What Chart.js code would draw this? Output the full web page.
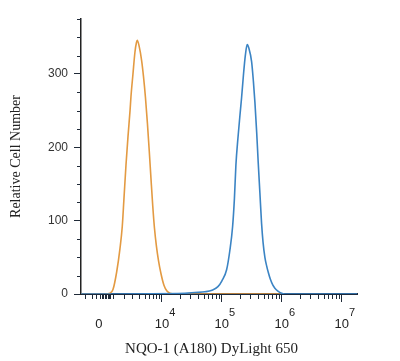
<!DOCTYPE html>
<html>
<head>
<meta charset="utf-8">
<script src="https://cdn.jsdelivr.net/npm/chart.js@4.4.1/dist/chart.umd.min.js"></script>
<style>
  html, body { margin: 0; padding: 0; background: #ffffff; }
  #wrap { width: 400px; height: 361px; }
</style>
</head>
<body>
<div id="wrap"><canvas id="c" width="400" height="361"></canvas></div>
<script>
// ---- data (fluorescence intensity vs. relative cell count) ----
const isotypeX = [-1340, 417, 781, 1011, 1315, 1608, 1827, 1998, 2213, 2441, 2685, 2801, 3065, 3347, 3571, 3696, 4001, 4446, 4787, 5194, 5632, 6055, 6479, 6960, 7444, 8053, 8711, 9606, 10797, 12132, 13630, 16530, 1000000];
const isotypeY = [0, 0, 1, 6, 30, 62, 92, 130, 176, 215, 250, 269, 300, 330, 343, 346, 338, 318, 297, 268, 232, 195, 158, 120, 90, 65, 46, 28, 12, 4, 1, 0, 0];

const nqoX = [-1340, 24300, 35700, 52400, 68580, 86340, 100670, 120540, 136840, 151770, 162630, 172230, 185960, 200860, 214320, 229670, 247980, 265750, 283700, 314660, 337100, 357030, 382600, 405220, 432500, 461670, 489000, 524140, 561660, 594770, 647190, 712350, 769160, 863040, 994970, 1128700, 18000000];
const nqoY = [0, 1, 2, 3, 5, 10, 18, 33, 60, 92, 130, 176, 212, 243, 268, 298, 326, 340, 335, 317, 290, 262, 220, 180, 138, 96, 70, 50, 38, 30, 20, 12, 8, 4, 1, 0, 0];

// axis ticks
const xTickValues = [0, 1e4, 1e5, 1e6, 1e7];
const xTickBase = ['0', '10', '10', '10', '10'];
const xTickExp = ['', '4', '5', '6', '7'];
const xMinorValues = [-1000, -500, -200, 100, 200, 300, 400, 500, 600, 700, 800,
  1000, 2000, 3000, 4000, 5000, 6000, 7000, 8000, 9000,
  2e4, 3e4, 4e4, 5e4, 6e4, 7e4, 8e4, 9e4,
  2e5, 3e5, 4e5, 5e5, 6e5, 7e5, 8e5, 9e5,
  2e6, 3e6, 4e6, 5e6, 6e6, 7e6, 8e6, 9e6];
const yTickValues = [0, 100, 200, 300];
const yMinorValues = [25, 50, 75, 125, 150, 175, 225, 250, 275, 325, 350, 375];

const X_MIN = -1340, X_MAX = 18000000, Y_MAX = 375;
const COF = 1795; // arcsinh cofactor of the biexponential-like axis

// ---- arcsinh scale ----
class AsinhScale extends Chart.LinearScale {
  _t(v) { return Math.asinh(v / COF); }
  getPixelForValue(value) {
    const a = this._t(this.min), b = this._t(this.max);
    return this.getPixelForDecimal((this._t(value) - a) / (b - a));
  }
  getValueForPixel(pixel) {
    const a = this._t(this.min), b = this._t(this.max);
    const d = this.getDecimalForPixel(pixel);
    return COF * Math.sinh(a + d * (b - a));
  }
}
AsinhScale.id = 'asinh';
AsinhScale.defaults = Chart.LinearScale.defaults;
Chart.register(AsinhScale);

const toPts = (xs, ys) => xs.map((x, i) => ({ x: x, y: ys[i] }));

const TICK_COLOR = '#1f2a38';
const SANS = '"Liberation Sans", Arial, sans-serif';
const SERIF = '"Liberation Serif", "Times New Roman", serif';

const axisDecor = {
  id: 'axisDecor',
  afterDraw(chart) {
    const ctx = chart.ctx, xs = chart.scales.x, ys = chart.scales.y;
    ctx.save();
    ctx.strokeStyle = TICK_COLOR;
    ctx.lineWidth = 1;
    // x minor ticks
    xMinorValues.forEach(v => {
      const px = Math.round(xs.getPixelForValue(v)) + 0.5;
      ctx.beginPath(); ctx.moveTo(px, xs.top + 1); ctx.lineTo(px, xs.top + 5); ctx.stroke();
    });
    // y minor ticks
    yMinorValues.forEach(v => {
      const py = Math.round(ys.getPixelForValue(v)) + 0.5;
      ctx.beginPath(); ctx.moveTo(ys.right, py); ctx.lineTo(ys.right - 4, py); ctx.stroke();
    });
    // x tick labels with superscript exponents
    ctx.fillStyle = '#222';
    ctx.textBaseline = 'middle';
    xTickValues.forEach((v, i) => {
      const px = xs.getPixelForValue(v);
      ctx.font = '13px ' + SANS;
      ctx.textAlign = 'center';
      ctx.fillText(xTickBase[i], px, xs.top + 30);
      if (xTickExp[i]) {
        const w = ctx.measureText(xTickBase[i]).width;
        ctx.font = '11px ' + SANS;
        ctx.textAlign = 'left';
        ctx.fillText(xTickExp[i], px + w / 2, xs.top + 19);
      }
    });
    ctx.restore();
  }
};

new Chart(document.getElementById('c'), {
  type: 'line',
  data: {
    datasets: [
      {
        label: 'Isotype',
        data: toPts(isotypeX, isotypeY),
        borderColor: '#e39a42',
        borderWidth: 1.6,
        pointRadius: 0,
        fill: false,
        cubicInterpolationMode: 'monotone',
        order: 2
      },
      {
        label: 'NQO-1',
        data: toPts(nqoX, nqoY),
        borderColor: '#3b84c4',
        borderWidth: 1.6,
        pointRadius: 0,
        fill: false,
        cubicInterpolationMode: 'monotone',
        order: 1
      }
    ]
  },
  options: {
    responsive: false,
    animation: false,
    events: [],
    layout: { padding: { top: 19, right: 43, left: 0, bottom: 0 } },
    plugins: { legend: { display: false }, tooltip: { enabled: false } },
    scales: {
      x: {
        type: 'asinh',
        min: X_MIN,
        max: X_MAX,
        bounds: 'data',
        afterFit: s => { s.height = 67; },
        afterBuildTicks: s => { s.ticks = xTickValues.slice(1).map(v => ({ value: v })); },
        grid: { drawOnChartArea: false, drawTicks: true, tickLength: 8, color: TICK_COLOR, lineWidth: 1 },
        border: { display: true, color: '#1c2b3f', width: 2 },
        ticks: { display: false, autoSkip: false },
        title: {
          display: true,
          text: 'NQO-1 (A180) DyLight 650    ',
          color: '#222',
          font: { family: SERIF, size: 15 },
          padding: { top: 0, bottom: 3 }
        }
      },
      y: {
        type: 'linear',
        min: 0,
        max: Y_MAX,
        afterFit: s => { s.width = 81; },
        afterBuildTicks: s => { s.ticks = yTickValues.map(v => ({ value: v })); },
        grid: { drawOnChartArea: false, drawTicks: true, tickLength: 7, color: TICK_COLOR, lineWidth: 1 },
        border: { display: true, color: '#222', width: 1.5 },
        ticks: { color: '#333', padding: 6, font: { family: SANS, size: 12 } },
        title: {
          display: true,
          text: 'Relative Cell Number',
          color: '#222',
          font: { family: SERIF, size: 14 },
          padding: { top: 8, bottom: 0 }
        }
      }
    }
  },
  plugins: [axisDecor]
});
</script>
</body>
</html>
